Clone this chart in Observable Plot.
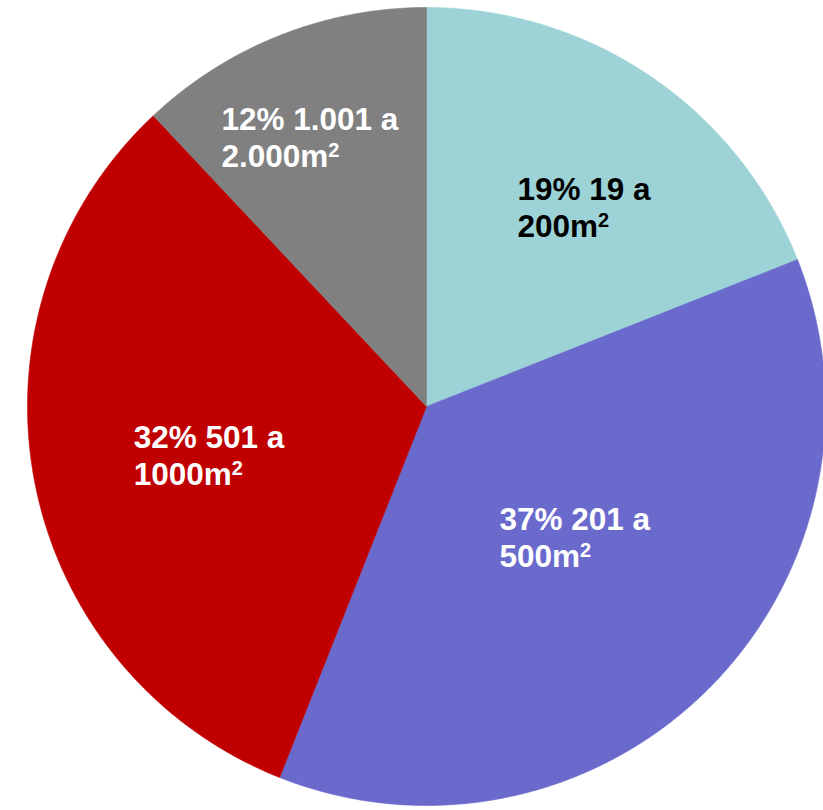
<!DOCTYPE html>
<html><head><meta charset="utf-8">
<script src="https://cdn.jsdelivr.net/npm/d3@7"></script>
<script src="https://cdn.jsdelivr.net/npm/@observablehq/plot@0.6"></script>
<style>html,body{margin:0;padding:0;background:#fff}</style>
</head><body><div id="chart"></div>
<script>
// Data
const categories = ["19 a 200m²", "201 a 500m²", "501 a 1000m²", "1.001 a 2.000m²"];
const shares = [19, 37, 32, 12];
const labels = ["19% 19 a\n200m²", "37% 201 a\n500m²", "32% 501 a\n1000m²", "12% 1.001 a\n2.000m²"];
const sliceColors = ["#9dd3d7", "#6a6acc", "#c00000", "#808080"];
const darkText = [true, false, false, false];

// Layout (label anchors in radius units, left edge / vertical middle)
const labelAnchor = [[0.228, 0.5], [0.183, -0.327], [-0.734, -0.12], [-0.514, 0.677]];

const arcs = d3.pie().sort(null).value(d => d)(shares);
const poly = [];
arcs.forEach((a, i) => {
  const n = Math.max(2, Math.ceil((a.endAngle - a.startAngle) / (Math.PI / 360)));
  poly.push({cat: categories[i], u: 0, v: 0});
  for (let k = 0; k <= n; k++) {
    const t = a.startAngle + (a.endAngle - a.startAngle) * k / n;
    poly.push({cat: categories[i], u: Math.sin(t), v: Math.cos(t)});
  }
  poly.push({cat: categories[i], u: 0, v: 0});
});

const labelData = labels.map((t, i) => ({text: t, u: labelAnchor[i][0], v: labelAnchor[i][1], dark: darkText[i]}));
const textOpts = {
  x: "u", y: "v", text: "text", textAnchor: "start", lineAnchor: "middle",
  lineHeight: 1.18, fontSize: 31.5, fontWeight: "bold",
  fontFamily: "Liberation Sans, Arial, sans-serif"
};

const chart = Plot.plot({
  width: 823, height: 810,
  margin: 0,
  x: {domain: [-1.0677, 0.995], range: [0, 823], axis: null},
  y: {domain: [-1.0125, 1.0175], range: [810, 0], axis: null},
  color: {domain: categories, range: sliceColors},
  marks: [
    Plot.line(poly, {x: "u", y: "v", z: "cat", fill: "cat", stroke: "cat", strokeWidth: 0.6, curve: "linear"}),
    Plot.text(labelData.filter(d => d.dark), {...textOpts, fill: "#000000"}),
    Plot.text(labelData.filter(d => !d.dark), {...textOpts, fill: "#ffffff"})
  ]
});
chart.style.background = "#fff";

// render the "²" as a raised, smaller "2"
chart.querySelectorAll("text tspan, text").forEach(el => {
  if (el.childElementCount === 0 && el.textContent.endsWith("²")) {
    const base = el.textContent.slice(0, -1);
    el.textContent = base;
    const sup = document.createElementNS("http://www.w3.org/2000/svg", "tspan");
    sup.setAttribute("font-size", "20");
    sup.setAttribute("dy", "-10");
    sup.textContent = "2";
    el.appendChild(sup);
  }
});
document.getElementById("chart").appendChild(chart);
</script>
</body></html>
